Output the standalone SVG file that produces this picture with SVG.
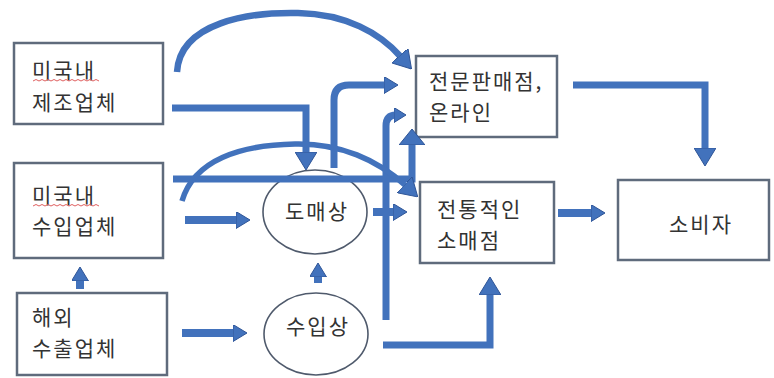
<svg xmlns="http://www.w3.org/2000/svg" width="774" height="378" viewBox="0 0 774 378">
<style>
.box{fill:#fff;stroke:#5f6b7c;stroke-width:2.5}
.ell{fill:#fff;stroke:#4f5a6c;stroke-width:1.6}
.t{font-family:"Noto Sans CJK KR","Noto Sans",sans-serif;font-size:21px;fill:#333;letter-spacing:2px}
.m{text-anchor:middle}
.c{fill:none;stroke:#4272BC;stroke-width:7}
.a{fill:none;stroke:#4272BC;stroke-width:5.5}
.s{fill:none;stroke:#4272BC;stroke-width:8}
.u{fill:none;stroke:#e06060;stroke-width:1}
</style>
<defs>
<marker id="big" markerUnits="userSpaceOnUse" viewBox="0 0 18 22" refX="2" refY="11" markerWidth="18" markerHeight="22" orient="auto"><path d="M0,0 L18,11 L0,22 z" fill="#4272BC" stroke="#2F5597" stroke-width="1"/></marker>
<marker id="wide" markerUnits="userSpaceOnUse" viewBox="0 0 16 26" refX="2" refY="13" markerWidth="16" markerHeight="26" orient="auto"><path d="M0,0 L16,13 L0,26 z" fill="#4272BC" stroke="#2F5597" stroke-width="1"/></marker>
<marker id="med" markerUnits="userSpaceOnUse" viewBox="0 0 14 17" refX="2" refY="8.5" markerWidth="14" markerHeight="17" orient="auto"><path d="M0,0 L14,8.5 L0,17 z" fill="#4272BC" stroke="#2F5597" stroke-width="1"/></marker>
<marker id="sm" markerUnits="userSpaceOnUse" viewBox="0 0 12 15" refX="2" refY="7.5" markerWidth="12" markerHeight="15" orient="auto"><path d="M0,0 L12,7.5 L0,15 z" fill="#4272BC" stroke="#2F5597" stroke-width="1"/></marker>
</defs>

<g id="n-mfg">
<rect class="box" x="14" y="43" width="149" height="81"/>
<text class="t" x="32" y="78">미국내</text>
<path class="u" d="M33,81 l3,-1.5 l3,1.5 l3,-1.5 l3,1.5 l3,-1.5 l3,1.5 l3,-1.5 l3,1.5 l3,-1.5 l3,1.5 l3,-1.5 l3,1.5 l3,-1.5 l3,1.5 l3,-1.5 l3,1.5 l3,-1.5 l3,1.5 l3,-1.5 l3,1.5 l3,-1.5 l3,1.5"/>
<text class="t" x="32" y="110">제조업체</text>
</g>
<g id="n-imp">
<rect class="box" x="14" y="163" width="149" height="95"/>
<text class="t" x="32" y="203">미국내</text>
<path class="u" d="M33,206 l3,-1.5 l3,1.5 l3,-1.5 l3,1.5 l3,-1.5 l3,1.5 l3,-1.5 l3,1.5 l3,-1.5 l3,1.5 l3,-1.5 l3,1.5 l3,-1.5 l3,1.5 l3,-1.5 l3,1.5 l3,-1.5 l3,1.5 l3,-1.5 l3,1.5 l3,-1.5 l3,1.5"/>
<text class="t" x="32" y="234">수입업체</text>
</g>
<g id="n-exp">
<rect class="box" x="17" y="293" width="150" height="82"/>
<text class="t" x="32" y="325">해외</text>
<text class="t" x="32" y="356">수출업체</text>
</g>
<g id="n-spec">
<rect class="box" x="416" y="56" width="141" height="81"/>
<text class="t" x="429" y="89">전문판매점,</text>
<text class="t" x="429" y="120">온라인</text>
</g>
<g id="n-retail">
<rect class="box" x="420" y="182" width="134" height="81"/>
<text class="t" x="437" y="217">전통적인</text>
<text class="t" x="437" y="248">소매점</text>
</g>
<g id="n-cons">
<rect class="box" x="618" y="180" width="151" height="80"/>
<text class="t m" x="701" y="232">소비자</text>
</g>
<g id="n-whole">
<ellipse class="ell" cx="315" cy="212" rx="52" ry="42"/>
<text class="t m" x="317" y="219">도매상</text>
</g>
<g id="n-importer">
<ellipse class="ell" cx="316" cy="334" rx="52" ry="41"/>
<text class="t m" x="318" y="334">수입상</text>
</g>

<g id="connectors">
<path class="c" d="M177,72 C180,22 250,12 298,13 C346,14 380,33 401,57" marker-end="url(#big)" style="stroke-width:6.5"/>
<path class="c" d="M172,108 L306,108 L306,154" marker-end="url(#big)"/>
<path class="c" d="M334,168 L334,100 Q334,85 349,85 L386,85" marker-end="url(#med)"/>
<path class="c" d="M386,320 L386,126 Q386,115 396,115 L396,115" marker-end="url(#sm)"/>
<path class="c" d="M173,179 L412,179 L412,143" marker-end="url(#wide)"/>
<path class="a" d="M182,201 C194,160 240,145 295,144 C340,143 378,160 406,186" marker-end="url(#big)"/>
<path class="s" d="M185,220 L238,220" marker-end="url(#med)"/>
<path class="s" d="M182,333 L235,333" marker-end="url(#med)"/>
<path class="s" d="M80,289 L80,279" marker-end="url(#med)"/>
<path class="s" d="M318,283 L318,275" marker-end="url(#med)"/>
<path class="s" d="M373,212 L395,212" marker-end="url(#med)"/>
<path class="c" d="M383,345 L490,345 L490,293" marker-end="url(#big)"/>
<path class="c" d="M573,85 L705,85 L705,150" marker-end="url(#big)"/>
<path class="s" d="M558,213 L593,213" marker-end="url(#med)"/>
</g>
</svg>
